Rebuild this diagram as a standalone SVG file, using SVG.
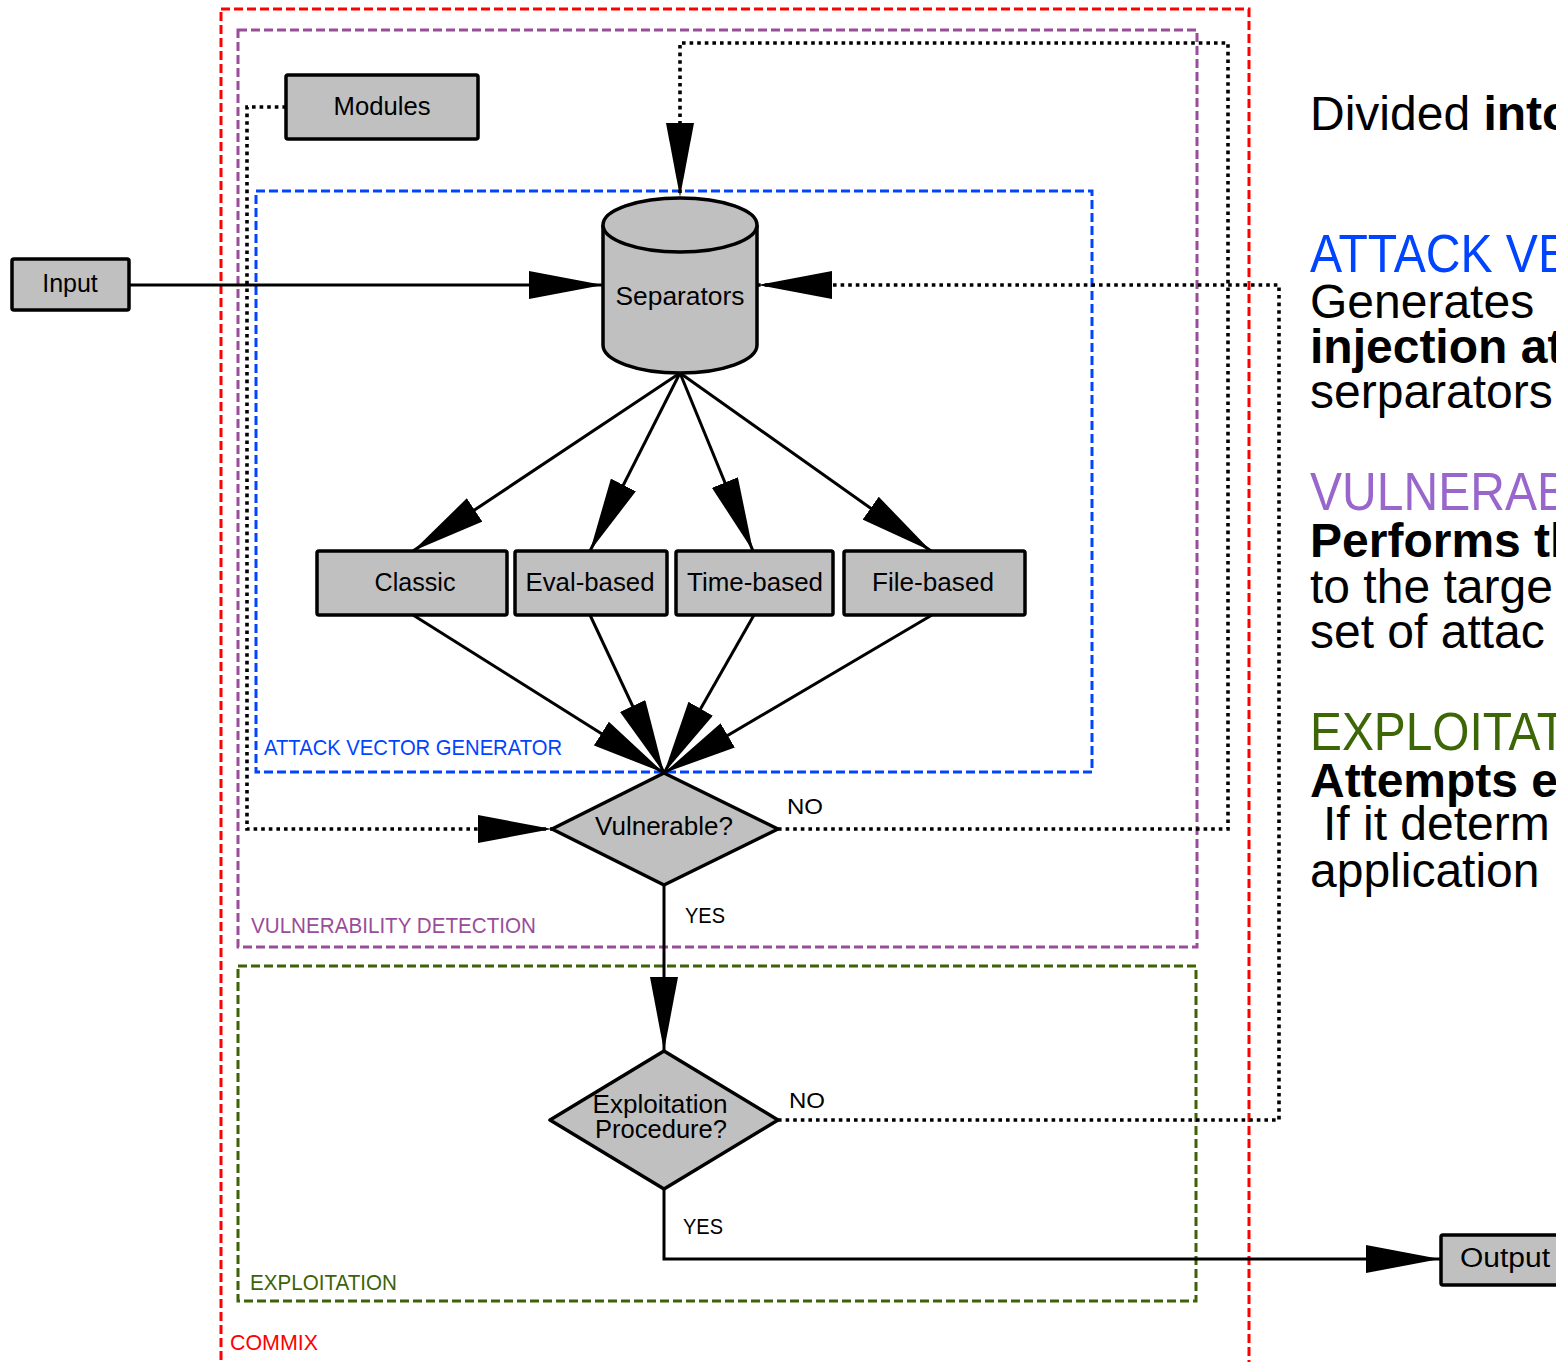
<svg xmlns="http://www.w3.org/2000/svg" width="1556" height="1362" viewBox="0 0 1556 1362">
<defs>
<style>
text{font-family:"Liberation Sans",Arial,sans-serif;}
.cl{fill:none;stroke-width:3;stroke-dasharray:9,4;}
.cll{font-size:22px;}
.nd{fill:#c0c0c0;stroke:#000;stroke-width:3.5;stroke-linejoin:round;}
.nt{font-size:25px;fill:#000;text-anchor:middle;}
.ed{fill:none;stroke:#000;stroke-width:3;}
.dot{fill:none;stroke:#000;stroke-width:3.6;stroke-dasharray:3.6,4;}
.el{font-size:22px;fill:#000;}
.rt{font-size:48px;fill:#000;}
.rb{font-weight:bold;}
.rh{font-size:54px;}
.rt.hb{fill:#0044ff;}
.rt.hp{fill:#9966cc;}
.rt.hg{fill:#3d6606;}
</style>
<marker id="ah" markerUnits="userSpaceOnUse" markerWidth="74" markerHeight="28" refX="74" refY="14" orient="auto" viewBox="0 0 74 28">
<path d="M0,0 L74,14 L0,28 Z" fill="#000"/>
</marker>
</defs>
<rect width="1556" height="1362" fill="#fff"/>

<g id="clusters">
<g id="commix">
<rect class="cl" x="221" y="9" width="1028" height="1370" stroke="#ff0000"/>
<text class="cll" x="230" y="1350" fill="#ff0000" textLength="88" lengthAdjust="spacingAndGlyphs">COMMIX</text>
</g>
<g id="vulnerability-detection">
<rect class="cl" x="238" y="30" width="959" height="917" stroke="#994d99"/>
<text class="cll" x="251" y="933" fill="#994d99" textLength="285" lengthAdjust="spacingAndGlyphs">VULNERABILITY DETECTION</text>
</g>
<g id="attack-vector-generator">
<rect class="cl" x="256" y="191" width="836" height="581" stroke="#0044ff"/>
<text class="cll" x="264" y="755" fill="#0044ff" textLength="298" lengthAdjust="spacingAndGlyphs">ATTACK VECTOR GENERATOR</text>
</g>
<g id="exploitation">
<rect class="cl" x="238" y="966" width="958" height="335" stroke="#3e6207"/>
<text class="cll" x="250" y="1290" fill="#3e6207" textLength="147" lengthAdjust="spacingAndGlyphs">EXPLOITATION</text>
</g>
</g>

<g id="connectors">
<path class="ed" d="M129,285 L603,285" marker-end="url(#ah)"/>
<path class="ed" d="M680,373 L413,551" marker-end="url(#ah)"/>
<path class="ed" d="M680,373 L590,551" marker-end="url(#ah)"/>
<path class="ed" d="M680,373 L753,551" marker-end="url(#ah)"/>
<path class="ed" d="M680,373 L931,551" marker-end="url(#ah)"/>
<path class="ed" d="M413,615 L664,773" marker-end="url(#ah)"/>
<path class="ed" d="M590,615 L664,773" marker-end="url(#ah)"/>
<path class="ed" d="M754,615 L664,773" marker-end="url(#ah)"/>
<path class="ed" d="M932,615 L664,773" marker-end="url(#ah)"/>
<path class="ed" d="M664,885 L664,1051" marker-end="url(#ah)"/>
<path class="ed" d="M664,1189 L664,1259 L1440,1259" marker-end="url(#ah)"/>
<path class="dot" d="M286,107 L247,107 L247,829 L552,829" marker-end="url(#ah)"/>
<path class="dot" d="M778,829 L1228,829 L1228,43 L680,43 L680,197" marker-end="url(#ah)"/>
<path class="dot" d="M778,1120 L1279,1120 L1279,285 L758,285" marker-end="url(#ah)"/>
<text class="el" x="787" y="814" textLength="36" lengthAdjust="spacingAndGlyphs">NO</text>
<text class="el" x="685" y="923" textLength="40" lengthAdjust="spacingAndGlyphs">YES</text>
<text class="el" x="789" y="1108" textLength="36" lengthAdjust="spacingAndGlyphs">NO</text>
<text class="el" x="683" y="1234" textLength="40" lengthAdjust="spacingAndGlyphs">YES</text>
</g>

<g id="node-input">
<rect class="nd" x="12" y="259" width="117" height="51" rx="2"/>
<text class="nt" x="70" y="292">Input</text>
</g>
<g id="node-modules">
<rect class="nd" x="286" y="75" width="192" height="64" rx="2"/>
<text class="nt" x="382" y="115" textLength="97" lengthAdjust="spacingAndGlyphs">Modules</text>
</g>
<g id="node-separators">
<path class="nd" d="M603,225 A77,27 0 0 1 757,225 L757,345 A77,28 0 0 1 603,345 Z"/>
<path class="nd" d="M603,225 A77,27 0 0 0 757,225" fill="none"/>
<text class="nt" x="680" y="305" textLength="129" lengthAdjust="spacingAndGlyphs">Separators</text>
</g>
<g id="node-classic">
<rect class="nd" x="317" y="551" width="190" height="64" rx="2"/>
<text class="nt" x="415" y="591" textLength="81" lengthAdjust="spacingAndGlyphs">Classic</text>
</g>
<g id="node-eval">
<rect class="nd" x="515" y="551" width="152" height="64" rx="2"/>
<text class="nt" x="590" y="591" textLength="129" lengthAdjust="spacingAndGlyphs">Eval-based</text>
</g>
<g id="node-time">
<rect class="nd" x="676" y="551" width="157" height="64" rx="2"/>
<text class="nt" x="755" y="591" textLength="136" lengthAdjust="spacingAndGlyphs">Time-based</text>
</g>
<g id="node-file">
<rect class="nd" x="844" y="551" width="181" height="64" rx="2"/>
<text class="nt" x="933" y="591" textLength="122" lengthAdjust="spacingAndGlyphs">File-based</text>
</g>
<g id="node-vulnerable">
<path class="nd" d="M664,773 L778,829 L664,885 L552,829 Z"/>
<text class="nt" x="664" y="835" textLength="138" lengthAdjust="spacingAndGlyphs">Vulnerable?</text>
</g>
<g id="node-exploitation-procedure">
<path class="nd" d="M664,1051 L778,1120 L664,1189 L550,1120 Z"/>
<text class="nt" x="660" y="1113" textLength="135" lengthAdjust="spacingAndGlyphs">Exploitation</text>
<text class="nt" x="661" y="1138" textLength="132" lengthAdjust="spacingAndGlyphs">Procedure?</text>
</g>
<g id="node-output">
<rect class="nd" x="1441" y="1235" width="160" height="50" rx="2"/>
<text x="1460" y="1267" font-size="27" textLength="90" lengthAdjust="spacingAndGlyphs">Output</text>
</g>

<g id="description">
<text class="rt" x="1310" y="130">Divided <tspan class="rb">into</tspan></text>
<text class="rt rh hb" x="1310" y="272" textLength="260" lengthAdjust="spacingAndGlyphs">ATTACK VE</text>
<text class="rt" x="1310" y="318">Generates</text>
<text class="rt rb" x="1310" y="363">injection att</text>
<text class="rt" x="1310" y="408">serparators</text>
<text class="rt rh hp" x="1310" y="510" textLength="259" lengthAdjust="spacingAndGlyphs">VULNERAB</text>
<text class="rt rb" x="1310" y="557">Performs th</text>
<text class="rt" x="1310" y="603">to the targe</text>
<text class="rt" x="1310" y="648">set of attac</text>
<text class="rt rh hg" x="1310" y="750" textLength="256" lengthAdjust="spacingAndGlyphs">EXPLOITAT</text>
<text class="rt rb" x="1310" y="797">Attempts ex</text>
<text class="rt" x="1323" y="840">If it determ</text>
<text class="rt" x="1310" y="887">application</text>
</g>
</svg>
